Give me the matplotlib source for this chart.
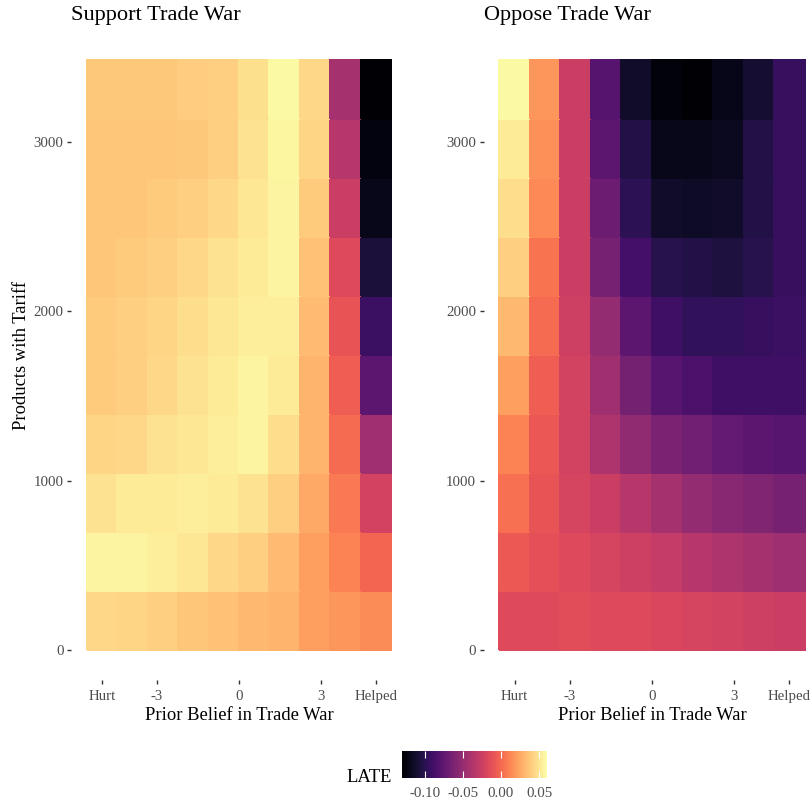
import numpy as np
import matplotlib
matplotlib.use("Agg")
import matplotlib.pyplot as plt
from matplotlib.colors import Normalize, ListedColormap

plt.rcParams["font.family"] = ["Liberation Serif", "DejaVu Serif"]

# ── Data ──────────────────────────────────────────────────────────────────────
# prior belief: 10 bins from Hurt (-5) to Helped (+5)
belief = np.linspace(-5, 5, 10)
# number of products with a tariff: bin centres
products = np.arange(174, 3480, 348)

belief_ticks = [-5, -3, 0, 3, 5]
belief_labels = ["Hurt", "-3", "0", "3", "Helped"]
product_ticks = [0, 1000, 2000, 3000]

# LATE estimates, rows = products (low -> high), cols = belief (Hurt -> Helped)
late_support = np.array([
    [0.045, 0.043, 0.041, 0.037, 0.035, 0.032, 0.030, 0.022, 0.018, 0.014],
    [0.056, 0.056, 0.054, 0.051, 0.045, 0.041, 0.033, 0.022, 0.011, -0.001],
    [0.049, 0.052, 0.052, 0.054, 0.052, 0.049, 0.041, 0.026, 0.007, -0.021],
    [0.043, 0.045, 0.049, 0.051, 0.054, 0.056, 0.047, 0.030, 0.001, -0.045],
    [0.039, 0.041, 0.045, 0.049, 0.052, 0.056, 0.052, 0.030, -0.005, -0.077],
    [0.039, 0.041, 0.043, 0.047, 0.051, 0.054, 0.054, 0.033, -0.010, -0.092],
    [0.037, 0.039, 0.041, 0.045, 0.049, 0.052, 0.056, 0.035, -0.016, -0.107],
    [0.037, 0.037, 0.039, 0.041, 0.045, 0.051, 0.056, 0.039, -0.026, -0.119],
    [0.037, 0.037, 0.037, 0.038, 0.041, 0.049, 0.057, 0.043, -0.035, -0.124],
    [0.038, 0.038, 0.038, 0.040, 0.041, 0.048, 0.058, 0.045, -0.043, -0.128],
])

late_oppose = np.array([
    [-0.016, -0.016, -0.014, -0.016, -0.016, -0.018, -0.020, -0.022, -0.024, -0.026],
    [-0.007, -0.012, -0.016, -0.020, -0.024, -0.029, -0.035, -0.039, -0.043, -0.046],
    [0.003, -0.010, -0.020, -0.026, -0.035, -0.043, -0.050, -0.056, -0.060, -0.064],
    [0.011, -0.008, -0.022, -0.039, -0.052, -0.062, -0.067, -0.073, -0.077, -0.079],
    [0.022, -0.005, -0.022, -0.045, -0.065, -0.079, -0.084, -0.090, -0.090, -0.090],
    [0.032, 0.001, -0.024, -0.050, -0.077, -0.090, -0.096, -0.096, -0.094, -0.092],
    [0.041, 0.005, -0.026, -0.064, -0.088, -0.101, -0.103, -0.105, -0.101, -0.094],
    [0.047, 0.013, -0.026, -0.069, -0.098, -0.113, -0.115, -0.113, -0.103, -0.094],
    [0.052, 0.016, -0.026, -0.077, -0.103, -0.119, -0.119, -0.117, -0.103, -0.094],
    [0.058, 0.018, -0.026, -0.080, -0.113, -0.126, -0.128, -0.120, -0.110, -0.094],
])

panels = [("Support Trade War", late_support), ("Oppose Trade War", late_oppose)]

# ── Figure ────────────────────────────────────────────────────────────────────
W, H = 811, 805
fig = plt.figure(figsize=(W / 100, H / 100), dpi=100)
norm = Normalize(vmin=-0.13, vmax=0.06)
# magma, with the blue channel toned down a little to match the rendered reference
base = plt.get_cmap("magma")(np.linspace(0, 1, 256))
base[:, 2] *= 0.88
cmap = ListedColormap(base)

# tile edges
dx = belief[1] - belief[0]
dy = products[1] - products[0]
x_edges = np.append(belief - dx / 2, belief[-1] + dx / 2)
y_edges = np.append(products - dy / 2, products[-1] + dy / 2)
# ggplot-style 5% expansion
xpad = 0.05 * (x_edges[-1] - x_edges[0])
ypad = 0.05 * (y_edges[-1] - y_edges[0])

ax_pos = [(71.3, 30.9, 335.4, 648.6), (484.0, 30.9, 336.0, 648.6)]

for (title, z), (l, t, w, h) in zip(panels, ax_pos):
    ax = fig.add_axes([l / W, 1 - (t + h) / H, w / W, h / H])
    mesh = ax.pcolormesh(x_edges, y_edges, z, cmap=cmap, norm=norm,
                         edgecolors="face", linewidth=0.3)
    ax.set_xlim(x_edges[0] - xpad, x_edges[-1] + xpad)
    ax.set_ylim(y_edges[0] - ypad, y_edges[-1] + ypad)
    for s in ax.spines.values():
        s.set_visible(False)
    ax.set_xticks(belief_ticks, belief_labels)
    ax.set_yticks(product_ticks)
    ax.tick_params(length=3.2, width=1.0, color="#333333", labelcolor="#4d4d4d",
                   labelsize=10.7, pad=2.5)
    ax.tick_params(axis="x", pad=4.5)
    ax.set_xlabel("Prior Belief in Trade War", fontsize=13.4, labelpad=3)
    ax.set_title(title, loc="left", fontsize=16.1, pad=8)
    if title.startswith("Support"):
        ax.set_ylabel("Products with Tariff", fontsize=13.4, labelpad=2.5)

# ── Colour bar legend ────────────────────────────────────────────────────────
cax = fig.add_axes([401.7 / W, 1 - 778 / H, 145 / W, 27 / H])
cb = fig.colorbar(mesh, cax=cax, orientation="horizontal")
cb.outline.set_visible(False)
cb.set_ticks([-0.10, -0.05, 0.00, 0.05], labels=["-0.10", "-0.05", "0.00", "0.05"])
cax.tick_params(direction="in", length=5, width=0.8, color="white",
                top=True, bottom=True, labelsize=10.7, labelcolor="#4d4d4d", pad=6.5)
fig.text(392 / W, 1 - 782 / H, "LATE", ha="right", va="baseline", fontsize=13.4)

fig.savefig("out.png", dpi=100)
